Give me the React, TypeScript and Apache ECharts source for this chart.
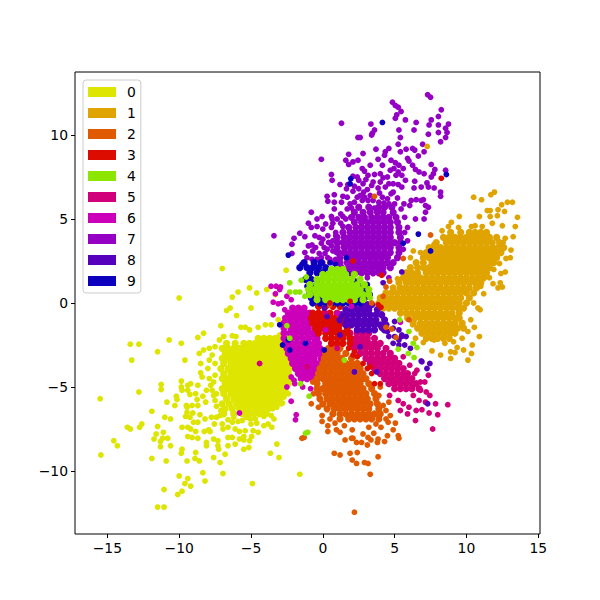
import React, { useEffect, useRef } from "react";
import * as echarts from "echarts";

const labels = ["0", "1", "2", "3", "4", "5", "6", "7", "8", "9"];
const colors = ["#dde500", "#e0a400", "#e05a00", "#dd0c00", "#8ce600", "#d1007a", "#cc00b8", "#9400c4", "#5500bd", "#0c00be"];
const xTicks = [-15, -10, -5, 0, 5, 10, 15];
const yTicks = [-10, -5, 0, 5, 10];
const drawOrder = [0, 1, 6, 2, 5, 3, 8, 7, 9, 4];

// Dense parts of the clusters: each row is [y, x, x, x ...]
const dense0 = [
  [-2.1,-4.5,-4.1,-3.7,-3.3,-2.9],
  [-2.4,-6.7,-6.1,-5.5,-5.1,-4.7,-4.3,-3.9,-3.5,-3.1,-2.7],
  [-2.7,-7.0,-6.6,-6.2,-5.8,-5.4,-5.0,-4.6,-4.2,-3.8,-3.4,-3.0,-2.6],
  [-3.0,-6.8,-6.4,-6.0,-5.6,-5.2,-4.8,-4.4,-4.0,-3.6,-3.2,-2.8,-2.4],
  [-3.3,-7.0,-6.6,-6.2,-5.8,-5.4,-5.0,-4.6,-4.2,-3.8,-3.4,-3.0,-2.6,-2.3],
  [-3.6,-6.9,-6.4,-6.0,-5.6,-5.2,-4.8,-4.4,-4.0,-3.6,-3.2,-2.8,-2.4],
  [-3.9,-7.1,-6.6,-6.2,-5.8,-5.4,-5.0,-4.6,-4.2,-3.8,-3.4,-3.0,-2.6,-2.3],
  [-4.2,-6.9,-6.4,-6.0,-5.6,-5.2,-4.8,-4.4,-4.0,-3.6,-3.2,-2.8,-2.4],
  [-4.5,-7.0,-6.6,-6.2,-5.8,-5.4,-5.0,-4.6,-4.2,-3.8,-3.4,-3.0,-2.6,-2.3],
  [-4.8,-6.8,-6.4,-6.0,-5.6,-5.2,-4.8,-4.4,-4.0,-3.6,-3.2,-2.8,-2.4],
  [-5.1,-7.0,-6.6,-6.2,-5.8,-5.4,-5.0,-4.6,-4.2,-3.8,-3.4,-3.0,-2.6],
  [-5.4,-6.9,-6.4,-6.0,-5.6,-5.2,-4.8,-4.4,-4.0,-3.6,-3.2,-2.8],
  [-5.7,-6.7,-6.2,-5.8,-5.4,-5.0,-4.6,-4.2,-3.8,-3.4,-3.0],
  [-6.0,-7.0,-6.5,-6.0,-5.6,-5.2,-4.8,-4.4,-4.0,-3.6,-3.3],
  [-6.3,-6.8,-6.3,-5.8,-5.4,-5.0,-4.6,-4.2,-3.8],
  [-6.6,-6.9,-6.2,-5.6,-5.2,-4.8,-4.4,-4.1],
];
const dense1 = [
  [4.2,8.9,9.6,10.2,10.6,11.0,11.4],
  [3.9,8.4,8.8,9.2,9.6,10.0,10.4,10.8,11.2,11.6,12.1],
  [3.6,7.9,8.6,9.0,9.4,9.8,10.2,10.6,11.0,11.4,11.8,12.3],
  [3.3,7.4,7.8,8.2,8.6,9.0,9.4,9.8,10.2,10.6,11.0,11.4,11.8,12.2,12.6],
  [3.0,7.2,7.6,8.0,8.4,8.8,9.2,9.6,10.0,10.4,10.8,11.2,11.6,12.0,12.4],
  [2.7,7.0,7.4,7.8,8.2,8.6,9.0,9.4,9.8,10.2,10.6,11.0,11.4,11.8,12.1],
  [2.4,6.5,7.0,7.6,8.0,8.4,8.8,9.2,9.6,10.0,10.4,10.8,11.2,11.6,11.9],
  [2.1,6.1,6.6,7.0,7.4,7.8,8.2,8.6,9.0,9.4,9.8,10.2,10.6,11.0,11.3,11.6],
  [1.8,5.8,6.2,6.6,7.2,7.6,8.0,8.4,8.8,9.2,9.6,10.0,10.4,10.8,11.1,11.4],
  [1.5,5.6,6.0,6.4,6.8,7.2,7.6,8.0,8.4,8.8,9.2,9.6,10.0,10.4,10.8,11.2],
  [1.2,5.3,5.8,6.2,6.6,7.0,7.4,7.8,8.2,8.6,9.0,9.4,9.8,10.2,10.6,11.0],
  [0.9,4.9,5.4,5.8,6.2,6.6,7.0,7.4,7.8,8.2,8.6,9.0,9.4,9.8,10.2,10.7],
  [0.6,4.4,4.8,5.2,5.6,6.0,6.4,6.8,7.2,7.6,8.0,8.4,8.8,9.2,9.6,10.0,10.5],
  [0.3,4.0,4.4,4.8,5.2,5.6,6.0,6.4,6.8,7.2,7.6,8.0,8.4,8.8,9.2,9.6,10.2],
  [0.0,3.9,4.3,4.7,5.1,5.5,5.9,6.3,6.7,7.1,7.5,7.9,8.3,8.7,9.1,9.5,10.0],
  [-0.3,4.2,4.6,5.0,5.4,5.8,6.2,6.6,7.0,7.4,7.8,8.2,8.6,9.0,9.4,9.8],
  [-0.6,5.4,5.8,6.2,6.6,7.0,7.4,7.8,8.2,8.6,9.0,9.5],
  [-0.9,5.9,6.4,6.8,7.2,7.6,8.0,8.4,8.8,9.2,9.5],
  [-1.2,6.3,6.8,7.2,7.6,8.0,8.4,8.8,9.2,9.7],
  [-1.5,6.6,7.0,7.4,7.8,8.2,8.6,9.0,9.4,9.8],
  [-1.8,6.9,7.3,7.7,8.1,8.5,8.9,9.2],
  [-2.1,7.2,7.6,8.0,8.4,8.8],
];
const dense2 = [
  [-2.7,0.4,0.8,1.2],
  [-3.0,0.2,0.6,1.0,1.6],
  [-3.3,0.1,0.5,0.9,1.3,2.0],
  [-3.6,0.0,0.4,0.8,1.2,1.6,2.0,2.4],
  [-3.9,-0.2,0.2,0.6,1.0,1.4,1.8,2.2,2.6],
  [-4.2,-0.3,0.1,0.5,0.9,1.3,1.7,2.1,2.5,2.8],
  [-4.5,-0.4,0.0,0.4,0.8,1.2,1.6,2.0,2.4,2.8,3.0],
  [-4.8,-0.4,0.2,0.6,1.0,1.4,1.8,2.2,2.6,3.2],
  [-5.1,-0.4,0.0,0.4,0.8,1.2,1.6,2.0,2.4,2.8,3.4],
  [-5.4,-0.3,0.2,0.6,1.0,1.4,1.8,2.2,2.6,3.0,3.6],
  [-5.7,-0.2,0.3,0.7,1.1,1.5,1.9,2.3,2.7,3.1,3.7],
  [-6.0,0.0,0.5,0.9,1.3,1.7,2.1,2.5,2.9,3.3,3.8],
  [-6.3,0.3,0.8,1.2,1.6,2.0,2.4,2.8,3.2,3.9],
  [-6.6,0.7,1.2,1.6,2.0,2.4,2.8,3.2,3.6,4.0],
  [-6.9,1.2,1.8,2.2,2.6,3.0,3.4,3.9],
];
const dense3 = [
  [-0.2,-0.3,0.2,0.7,1.2],
  [-0.6,-0.7,-0.3,0.1,0.5,1.0],
  [-0.9,-0.8,-0.4,0.0,0.4,0.8,1.4],
  [-1.2,-0.7,-0.3,0.1,0.5,0.9,1.3,1.6],
  [-1.5,-0.5,-0.1,0.3,0.7,1.1,1.7],
  [-1.8,-0.3,0.2,0.6,1.0,1.4,1.7],
  [-2.1,0.2,0.6,1.0,1.4,1.9],
  [-2.4,0.6,1.0,1.4,1.9],
];
const dense4 = [
  [2.0,0.6,1.0,1.4],
  [1.7,0.0,0.4,0.8,1.2,1.6,2.2],
  [1.4,-0.4,0.0,0.4,0.8,1.2,1.6,2.0,2.6],
  [1.1,-0.9,-0.4,0.0,0.4,0.8,1.2,1.6,2.0,2.4,2.9],
  [0.8,-1.0,-0.6,-0.2,0.2,0.6,1.0,1.4,1.8,2.2,2.6,3.2],
  [0.5,-0.9,-0.4,0.0,0.4,0.8,1.2,1.6,2.0,2.4,2.8,3.2],
  [0.2,-0.4,0.2,0.6,1.0,1.4,1.8,2.2,2.8],
];
const dense5 = [
  [-1.8,1.9,2.4,2.8,3.2],
  [-2.1,1.9,2.3,2.7,3.1,3.6],
  [-2.4,2.0,2.4,2.8,3.2,3.6,4.0],
  [-2.7,2.2,2.6,3.0,3.4,3.8,4.4],
  [-3.0,2.6,3.0,3.4,3.8,4.2,4.7],
  [-3.3,3.0,3.4,3.8,4.2,4.6,5.0],
  [-3.6,3.3,3.7,4.1,4.5,4.9,5.3],
  [-3.9,3.6,4.0,4.4,4.8,5.2,5.6],
  [-4.2,4.0,4.4,4.8,5.2,5.6,5.9],
  [-4.5,4.3,4.7,5.1,5.5,5.9,6.2],
  [-4.8,4.6,5.0,5.4,5.8,6.2,6.5],
  [-5.1,5.0,5.4,5.8,6.2,6.7],
];
const dense6 = [
  [-0.3,-2.1,-1.7,-1.3],
  [-0.6,-2.4,-2.0,-1.6,-1.2,-0.9],
  [-0.9,-2.6,-2.2,-1.8,-1.4,-1.0,-0.7],
  [-1.2,-2.7,-2.3,-1.9,-1.5,-1.1,-0.6],
  [-1.5,-2.7,-2.2,-1.8,-1.4,-1.0,-0.5],
  [-1.8,-2.7,-2.3,-1.9,-1.5,-1.1,-0.7,-0.5],
  [-2.1,-2.7,-2.2,-1.8,-1.4,-1.0,-0.6,-0.4],
  [-2.4,-2.6,-2.2,-1.8,-1.4,-1.0,-0.6,-0.3],
  [-2.7,-2.5,-2.1,-1.7,-1.3,-0.9,-0.5,-0.2],
  [-3.0,-2.4,-2.0,-1.6,-1.2,-0.8,-0.4,-0.1],
  [-3.3,-2.2,-1.8,-1.4,-1.0,-0.6,-0.1],
  [-3.6,-2.1,-1.7,-1.3,-0.9,-0.5,-0.2],
  [-3.9,-1.9,-1.5,-1.1,-0.7,-0.3],
  [-4.2,-1.7,-1.3,-0.9,-0.5],
  [-4.5,-1.5,-1.1,-0.7],
];
const dense7 = [
  [5.7,2.5,3.2,3.9,4.3,4.8],
  [5.4,2.2,2.8,3.3,3.8,4.2,4.9],
  [5.1,2.0,2.5,2.9,3.4,3.8,4.2,4.6,5.1],
  [4.8,2.2,2.7,3.1,3.5,3.9,4.3,4.7,5.2],
  [4.5,1.8,2.3,2.7,3.1,3.5,3.9,4.3,4.7,5.3],
  [4.2,1.4,1.9,2.3,2.7,3.1,3.5,3.9,4.3,4.7,5.3],
  [3.9,1.0,1.5,1.9,2.3,2.7,3.1,3.5,3.9,4.3,4.7,5.4],
  [3.6,1.0,1.4,1.8,2.2,2.6,3.0,3.4,3.8,4.2,4.6,5.0,5.4],
  [3.3,1.0,1.5,1.9,2.3,2.7,3.1,3.5,3.9,4.3,4.7,5.3],
  [3.0,1.1,1.5,1.9,2.3,2.7,3.1,3.5,3.9,4.3,4.7,5.3],
  [2.7,1.2,1.7,2.1,2.5,2.9,3.3,3.7,4.1,4.5,5.2],
  [2.4,1.2,1.7,2.1,2.5,2.9,3.3,3.7,4.1,4.5,4.9],
  [2.1,1.3,1.8,2.2,2.6,3.0,3.4,3.8,4.2,4.7],
  [1.8,1.4,1.9,2.3,2.7,3.1,3.5,3.9,4.2],
];
const dense8 = [
  [-0.1,2.2,2.7,3.1,3.4],
  [-0.4,1.6,2.0,2.4,2.8,3.2,3.8],
  [-0.7,1.3,1.7,2.1,2.5,2.9,3.3,3.7,4.1],
  [-1.0,1.2,1.7,2.1,2.5,2.9,3.3,3.7,4.3],
  [-1.3,1.6,2.0,2.4,2.8,3.2,3.6,4.0,4.4],
  [-1.6,2.4,2.8,3.2,3.6,4.3],
];
const dense9 = [
  [2.4,-1.3,-0.6,-0.1],
  [2.1,-1.6,-1.1,-0.7,-0.3,0.2],
  [1.8,-0.9,-0.4,0.0],
  [1.4,-1.2,-0.8],
  [0.6,-0.9,-0.4,2.9],
  [0.3,-0.8,-0.3,0.1,0.5,1.0,1.4,2.5,2.9],
  [0.0,-0.7,-0.2,0.2,0.6,1.0,1.4,1.8,2.2,2.6],
];

// Thin parts of the clusters, read dot by dot
const sparse0 = [[-15.5,-5.7],[-15.45,-9.05],[-14.55,-8.2],[-14.3,-8.5],[-13.6,-7.4],[-13.4,-7.5],[-13.4,-2.45],[-12.8,-2.45],[-13.3,-3.4],[-12.8,-5.3],[-11.5,-2.9],[-10.7,-2.2],[-9.85,-2.4],[-9.6,-3.4],[-8.7,-2.05],[-8.3,-1.8],[-6.7,-0.45],[-6.45,-0.3],[-6.0,-0.75],[-5.0,-0.3],[-7.1,-1.35],[-5.7,-1.45],[-5.4,-1.45],[-5.1,-1.6],[-4.5,-1.45],[-4.0,-1.3],[-3.6,-1.3],[-10,0.3],[-7,2.05],[-5.9,0.65],[-6.3,0.35],[-5.1,0.9],[-4.6,0.6],[-3.9,0.8],[-3.3,0.5],[-2.55,1.95],[-3.1,-1],[-6.9,-2.0],[-6.3,-1.95],[-6.05,-2.0],
  [-11.9,-6.45],[-10.85,-5.9],[-11,-6.8],[-10.6,-6.9],[-11.5,-7.35],[-12.6,-7.2],[-12.75,-7.4],[-11.1,-7.7],[-11.6,-7.8],[-11.75,-8.1],[-11.3,-8.25],[-11.15,-8.05],[-10.8,-8.05],[-11.3,-8.55],[-10.6,-8.5],[-11.9,-9.25],[-10.9,-9.4],[-9.8,-8.7],[-9.85,-8.95],[-9.45,-9.4],[-8.85,-8.9],[-8.9,-9.25],[-8.6,-9.4],[-7.6,-9.2],[-7.15,-9.5],[-6.8,-9],[-8.35,-10.1],[-6.95,-10.15],[-10,-10.3],[-9.4,-10.45],[-9.6,-10.75],[-9.2,-10.9],[-8.2,-10.6],[-11.05,-11.1],[-9.8,-11.2],[-10.1,-11.4],[-11.5,-12.15],[-11.05,-12.15],[-4.9,-10.75],[-1.6,-10.2],[-3.65,-8.95],[-3.05,-9.2],[-3.2,-8.4],[-5.5,-8.7],[-5.15,-8.6],
  [-11.25,-4.85],[-11.25,-5.15],[-9.85,-4.65],[-9.85,-5],[-9.8,-5.2],[-9.4,-4.9],[-9.4,-5.2],[-9.2,-4.8],[-9.25,-5.45],[-8.7,-4.9],[-8.85,-5.4],[-8.75,-5.75],[-10.2,-5.55],[-10.15,-5.75],[-10.3,-6.1],[-8.35,-5.55],[-8.15,-5.9],[-8.7,-6.1],[-9.1,-6.1],[-9.5,-6.1],[-9.45,-6.2],[-9.45,-6.5],[-9.55,-6.75],[-9.05,-6.55],[-8.55,-6.65],[-8.7,-7.1],[-9.25,-6.8],[-8.2,-6.9],[-9,-7.1],[-9.4,-7.4],[-9.8,-7.4],[-9.2,-7.5],[-8.85,-7.65],[-9.4,-7.95],[-8.25,-7.65],[-7.95,-7.55],[-7.85,-7.65],[-7.55,-7.2],[-7.75,-6.8],[-7.4,-6.8],[-7.15,-6.7],[-9.1,-8.0],[-8.7,-8.05],[-8.1,-8.3],[-8.1,-8.5],[-7.6,-8.1],[-7.3,-8.2],[-7.3,-8.5],[-7.25,-8.7],[-6.6,-8.5],[-6.6,-8.0],[-6.3,-8.0],[-5.8,-8.1],[-5.5,-8.15],[-5.5,-7.95],[-4.95,-7.95],[-4.85,-7.6],[-5.0,-7.2],[-5.4,-7.6],[-5.8,-7.65],[-6.1,-7.5],[-6.3,-7.1],[-6.6,-6.95],[-6.95,-7.5],[-7,-7.2],[-5.6,-7.0],[-5.9,-7.05],[-5.05,-6.9],[-4.6,-7.15],[-4.1,-7.3],[-3.8,-7.2],[-3.55,-7.4],[-4.1,-6.75],[-4.4,-6.6],[-3.9,-6.6],[-3.2,-6.2],[-2.9,-6.0],[-2.8,-5.95],[-3.5,-6.3],[-7.6,-5.5],[-7.5,-5.8],[-7.8,-4.9],[-7.9,-4.5],[-8,-3.9],[-8.5,-3.6],[-8.6,-3.0],[-8.4,-4.4],[-8.5,-4.15],[-7.9,-3.4],[-7.9,-2.7],[-7.7,-3.1],[-7.7,-5.2],[-7.4,-6.15],[-7.4,-5.4],
  [-7.5,-2.6],[-7.5,-3.6],[-7.5,-4.3],[-7.6,-4.7],[-8.1,-5.2],[-7.1,-6.4],[-6.6,-7.4],[-6.2,-6.8],[-5.3,-6.8],[-4.7,-6.9],[-3.6,-6.7],[-3.4,-6.9],[-5.1,-8.2],[-4.5,-7.7],[-6.1,-8.4],[-2.4,-5.4],[-2.7,-5.6],[-8.3,-2.8],[-7.2,-2.2],[-3.0,-1.9],[-2.6,-2.1]];
const sparse1 = [[10.5,6.3],[11.05,6.15],[11.7,6.45],[11.95,6.6],[12.45,5.85],[12.85,6],[13.2,6],[11.45,5.5],[11.65,5.5],[9.5,5.15],[10.9,5.15],[12.2,5.55],[12.65,5.45],[12.15,5.2],[13.55,5.1],[8.95,4.8],[8.75,4.55],[8.3,4.3],[9.45,4.5],[10.35,4.55],[10.6,4.6],[11.1,4.55],[11.65,5.15],[11.8,4.75],[12.5,4.6],[13.4,4.55],[13.25,3.95],[12.7,3.85],[12.55,3.6],[13.1,3.15],[12.75,2.65],[13.05,2.7],[12.3,2.35],[12.7,1.85],[12.4,1.75],[12.35,1.2],[11.85,1.15],[12.5,0.95],[12.2,0.9],[7.75,3.5],[6.3,3.1],[6.8,3],[6.1,2.7],[5.2,1.45],[11.2,0.55],[10.95,-0.4],[10.8,-0.3],[10.55,-1.45],[10.9,-2],[10.4,-2.5],[10.35,-3],[10.1,-3.4],[9.35,-2.65],[9.8,-2.8],[9.2,-2.95],[8.9,-3.3],[8.9,-2.9],[8.2,-3.1],[7.6,-2.85],[6.25,-1.3],[6.45,-2.1],[7,-2.35],[7.75,-2.2],[8.5,-2.4],[9.1,-2.3],[9.7,-2.1],[10.1,-1.7],[10.3,-1.0],[10.5,0.0],[11.0,1.0],[11.6,1.5],[11.9,2.0]];
const sparse2 = [[2.2,-12.45],[3.3,-10.2],[2.05,-9.35],[2.35,-9.55],[2.9,-9.5],[3.15,-9.55],[3.85,-9.15],[2.4,-8.9],[1.9,-8.95],[1.2,-9.05],[0.8,-8.95],[1.55,-8.15],[2,-8.05],[2.1,-8.05],[2.35,-8.3],[2.7,-8.3],[3.1,-8.45],[3.35,-8.15],[3.8,-8.3],[3.85,-8.1],[4.3,-8.25],[4.5,-7.9],[4.9,-7.55],[5.25,-7.9],[5.3,-8.05],[0.35,-7.65],[0.35,-7.3],[-0.05,-7.05],[-1.45,-8.05],[0.85,-7.15],[0.95,-7.55],[1.2,-7.7],[2.05,-7.55],[2.8,-7.8],[3.15,-8],[3.55,-7.75],[4.05,-7.4],[4.55,-7.1],[5.05,-7.15],[0.5,-6.9],[4.4,-6.9],[4.4,-6.4],[4.7,-6.7],[4.2,-6.1],[4.6,-5.9],[-0.3,-6.2],[-0.05,-6.7],[-0.65,-5.4],[-0.7,-4.7],[3.9,-5.5],[4.0,-5.0],[1.5,-7.3],[3.2,-7.4],[3.7,-7.2]];
const sparse3 = [[2.1,-3.1],[2.4,-3.2],[2.8,-3.6],[3.3,-3.8],[3.4,-4.2],[3.6,-4.8],[4,-4.8],[1.8,-2.7],[3.1,-3.9],[2.2,-2.9]];
const sparse4 = [[-2.3,1.2],[-2.3,0.65],[-1.9,0.65],[-1.6,0.65],[-1.25,0.4],[-1.5,1.35],[-1.15,1.55],[3.3,0.3]];
const sparse5 = [[7.65,-7.5],[8.7,-6.05],[7.85,-6],[8,-6.65],[7.4,-6.55],[6.9,-6.35],[6.45,-7],[6.5,-6.4],[6,-6.2],[5.6,-6],[5.25,-5.8],[4.65,-5.5],[7.45,-5.5],[7.2,-5.3],[6.8,-5.2],[7.35,-4.3],[6.55,-4],[6.05,-3.7],[6.8,-4.7],[6.3,-5.5],[6.7,-5.8],[5.9,-6.6],[5.4,-6.4],[7.15,-5.9],[5.6,-3.2],[1.7,-1.6],[6.4,-4.2],[7.1,-4.7]];
const sparse6 = [[-3.6,1],[-3.25,1],[-3,0.8],[-3.45,0.05],[-3.1,-0.05],[-2.85,0],[-2.5,0.4],[-2.2,0.2],[-2.65,-0.4],[-3.45,-0.7],[-2,-0.6],[-2.95,0.95],[-3.3,0.55],[-2.2,-5.85],[-1.85,-6.65],[-1.9,-6.95],[-2.5,-5.0],[-2.2,-4.4],[-2.0,-4.6],[-0.85,-5.1],[-1.4,-5.0],[-0.4,-4.6],[-1.95,-4.8]];
const sparse7 = [[7.3,12.4],[7.5,12.25],[4.85,11.95],[5.05,11.75],[5.25,11.65],[5.45,11.4],[5.15,11.2],[5.05,11],[5.75,10.9],[6.5,10.75],[7.55,10.9],[8.05,11.1],[8.25,11.5],[7.4,10.6],[8.05,10.6],[8.75,10.65],[8.55,10.4],[8.65,10.15],[8.05,10.15],[7.35,10.05],[6.35,10.3],[5.3,10.3],[5.4,9.85],[8.2,9.6],[8.55,9.85],[6.95,9.45],[5.25,9.45],[1.3,10.7],[3.35,10.65],[3.6,10.3],[3.45,10.1],[3.4,10],[2.45,9.85],[2.6,9.85],[4.6,9.2],[4.35,9],[4.3,8.8],[3.7,9.15],[2.8,8.9],[1.8,8.85],[1.6,8.5],[1.8,8.25],[2.1,8.4],[2.45,8.5],[-0.1,8.55],[3.85,8.55],[5.8,9.15],[5.4,9],[6.25,9.2],[6.4,9.1],[7.05,9],[6.65,8.75],[5.9,8.6],[6,8.45],[6.25,8.2],[6.45,7.95],[6.7,7.8],[7.05,7.7],[7.55,8.25],[7.8,7.95],[7.7,7.7],[7.55,7.5],[7.25,7.15],[7.35,6.9],[7.75,6.85],[8.2,6.6],[8.2,6.35],[8.55,7.9],[4.75,8.5],[5.05,8.35],[5.3,8.2],[4.15,8.2],[2.75,8],[2.9,7.85],[4.95,8],[5.25,7.8],[5.5,7.6],[3.6,7.65],[4,7.7],[4.2,7.45],[4.5,7.5],[0.6,7.65],[0.65,7.3],[3.15,7.6],[3,7.35],[2.4,7.5],[2.1,7.55],[3.5,7.2],[1.2,7.05],[1.75,7.05],[1.65,6.8],[2.2,6.95],[3.85,6.85],[4.35,6.9],[4.9,7.1],[5.25,7.05],[5.75,7.3],[5.5,6.9],[6.4,7.25],[6.35,6.85],[6.85,6.9],[3.1,6.75],[2.85,6.6],[2.6,6.4],[4.9,6.6],[4.75,6.5],[3.95,6.55],[4.15,6.3],[0.8,6.45],[0.3,6.35],[0.35,6.05],[0.8,6],[1.3,6],[1.4,6.35],[1.7,6.3],[2.1,6.65],[2.4,6.3],[2.75,6.1],[3.15,6.1],[3.6,5.65],[5.2,6.25],[4.25,5.95],[6.15,6.1],[6.5,6.15],[7,6.15],[6.85,6.1],[6.05,5.8],[7.15,5.8],[7.35,5.7],[7.15,5.4],[7.05,5],[6.45,5],[0.8,5.6],[-0.8,5.4],[-0.05,5.15],[-0.4,5],[0.6,5.15],[0.65,5],[1.25,5.3],[1.4,5.15],[-1,4.75],[-0.8,4.5],[-0.4,4.55],[0,4.4],[0.7,4.75],[1.25,4.75],[1.4,4.55],[-1.6,4.15],[-1.25,3.95],[-0.55,4],[-0.25,3.9],[0.35,4],[-3.4,4],[-2,3.85],[-2.15,3.5],[-2.15,2.95],[-0.75,3.45],[0.1,3.3],[-0.1,3.55],[-1.25,3],[-0.7,3.1],[-0.25,2.95],[0.15,2.95],[0.35,2.7],[-0.75,2.6],[0.7,2.4],[0,2.4],[0.6,3.4],[0.4,3.6],[0.95,3.0],[0.7,3.1],[1.9,5.9],[1.7,5.6],[2.0,5.65],[5.65,5.9],[5.45,5.6],[5.7,5.1],[5.9,4.5],[5.7,4.2],[5.9,3.7],[5.6,3.2],[3.1,1.5],[4.6,1.5],
  [1.0,5.0],[0.6,4.5],[0.9,4.2],[0.2,4.7],[1.6,5.0],[2.2,6.0],[2.9,6.3],[3.3,6.4],[3.5,6.1],[3.9,6.0],[4.5,6.2],[4.6,5.9],[5.0,5.9],[2.5,6.8],[3.4,7.0],[2.8,7.1],[4.0,7.2],[4.6,7.1],[5.1,7.6],[5.6,8.0],[4.7,7.9],[3.3,8.2],[2.5,7.3],[-0.5,3.3],[-1.0,3.4],[0.3,3.2],[0.0,3.8],[0.7,3.7],[0.9,4.0],[-1.1,2.7],[-0.4,2.6],[-0.1,2.7],[0.5,2.6],[0.9,2.6]];
const sparse8 = [[4.1,-1.5],[4.5,-1.7],[4.9,-1.5],[5.3,-1.6],[4.6,-2.0],[5.0,-2.0],[5.3,-2.2],[5.5,-2.0],[4.9,-2.4],[5.3,-2.5],[5.7,-2.5],[6.1,-2.7],[5.5,-1.9],[6.85,-3.45],[7.45,-3.6],[7.25,-3.9],[6.9,-3.5],[5.5,1.85],[4.2,1.2],[2.6,-2.6],[2.2,-4.1],[3.75,-4.1],[7.3,-6],[5.0,-1.1],[5.8,-2.0]];
const sparse9 = [[-2.4,2.85],[-1.45,2.3],[1.65,2.7],[4.15,10.75],[1.95,7.4],[1.9,7.1],[8.6,7.65],[6.65,4.1],[5.6,3.55],[-0.4,1.3],[-0.6,1.0],[1.7,1.75],[2.3,1.3],[2.6,1.0],[3.0,0.9],[2.4,0.6],[-1.1,1.0],[0.9,2.3],[0.5,2.4],[-3.0,-1.3],[-2.8,-2.5],[-2.3,-2.8],[-2.4,-2.2],[3.3,0.5],[3.1,1.1]];

// Stray dots of one label lying on top of another cluster
const stray = [
  [],
  [[7.27,9.32]],
  [[3.6,6.35],[7.5,4.05],[5.6,2.65],[4.65,1.3],[4.4,0.95],[6,-1],[4.4,-1.45],[5.1,-2.05],[4.2,0.4],[3.4,0.0],[0.5,-0.1],[-0.8,-6.0],[-1.3,-8.0],[4.8,-1.55]],
  [[8.25,7.42],[2.1,2.5],[4.1,1.65],[4.05,-0.25],[3.85,-0.1],[1.9,0.1],[0.5,0.0]],
  [[5.35,-1],[6,-1.7],[6.3,-2.4],[6.55,-2.65],[5.25,-2.75],[5.95,-3],[6.35,-3.25],[-2.5,-1.35],[-1.55,-4.8],[-0.95,-5.55],[-1.2,-7.75],[-1.05,-7.7],[-2.3,-2.1],[1.5,-3.4]],
  [[-1.1,-3.8],[-4.4,-3.6],[0.2,-0.6],[1.0,-2.7]],
  [[-5.8,-6.55],[5.4,-1.15],[1.0,-0.6],[0.2,-1.6],[2.0,-0.2]],
  [],
  [[0.3,-0.8],[1.2,-1.9],[0.1,-0.3]],
  [[7.5,3.1],[-1.2,-2.4],[0.1,-2.8]],
];

const denseRows = [dense0, dense1, dense2, dense3, dense4, dense5, dense6, dense7, dense8, dense9];
const sparsePoints = [sparse0, sparse1, sparse2, sparse3, sparse4, sparse5, sparse6, sparse7, sparse8, sparse9];
const fromRows = (rows: number[][]) => rows.flatMap(r => r.slice(1).map(x => [x, r[0]]));

const dot = (name: string, color: string, data: number[][], symbolSize: number) => ({
  type: "scatter", name, data, symbol: "circle", symbolSize,
  itemStyle: { color, opacity: 1 }, silent: true,
});

export default function App() {
  const ref = useRef<HTMLDivElement>(null);
  useEffect(() => {
    const chart = echarts.init(ref.current!, undefined, { renderer: "svg" });
    const font = { fontFamily: "DejaVu Sans", fontSize: 13.9, color: "#000" };
    const axis = (min: number, max: number, ticks: number[]) => ({
      type: "value", min, max, splitLine: { show: false },
      axisLine: { show: false, onZero: false },
      axisTick: { show: true, length: 4, customValues: ticks, lineStyle: { color: "#000", width: 1 } },
      axisLabel: { ...font, margin: 7, customValues: ticks, formatter: (v: number) => String(v).replace("-", "\u2212") },
    });
    chart.setOption({
      animation: false,
      backgroundColor: "#fff",
      grid: { left: 75, right: 60, top: 72, bottom: 66, show: true, borderColor: "#000", borderWidth: 1, backgroundColor: "transparent" },
      xAxis: axis(-17.25, 15.12, xTicks),
      yAxis: axis(-13.75, 13.75, yTicks),
      legend: {
        orient: "vertical", left: 83, top: 80, width: 58,
        data: labels.map(name => ({ name, icon: "rect" })),
        itemWidth: 28, itemHeight: 10, itemGap: 5,
        padding: [4, 5, 4, 5],
        borderColor: "#ccc", borderWidth: 1, borderRadius: 3, backgroundColor: "#fff",
        textStyle: { ...font, padding: [0, 0, 0, 6], lineHeight: 16 },
      },
      series: [
        ...drawOrder.flatMap(i => [
          dot(labels[i], colors[i], fromRows(denseRows[i]), 7.2),
          dot(labels[i], colors[i], sparsePoints[i], 5.8),
        ]),
        ...drawOrder.map(i => dot(labels[i], colors[i], stray[i], 5.8)),
      ],
    });
    return () => chart.dispose();
  }, []);
  return <div ref={ref} style={{ position: "absolute", left: 0, top: 0, width: 600, height: 600 }} />;
}
